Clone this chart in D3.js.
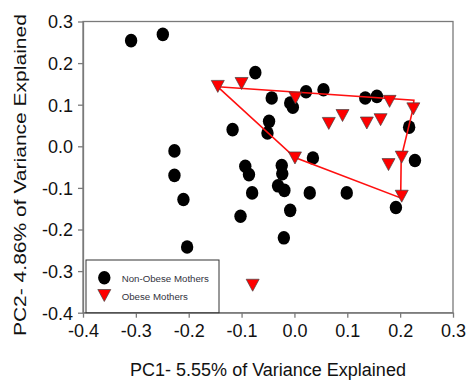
<!DOCTYPE html>
<html>
<head>
<meta charset="utf-8">
<script src="https://cdn.jsdelivr.net/npm/d3@7"></script>
<style>
  body { margin: 0; background: #fff; }
  text { font-family: Arial, "Liberation Sans", sans-serif; }
</style>
</head>
<body>
<svg id="chart" width="467" height="380"></svg>
<script>
const width = 467;
const height = 380;

// Non-obese mothers (circles)
const nonObeseX = [-0.309, -0.249, -0.227, -0.227, -0.210, -0.203, -0.093, -0.086, -0.080, -0.102,
  -0.024, -0.023, -0.031, -0.019, -0.008, -0.020, 0.029, -0.074, -0.043, 0.022,
  0.055, -0.008, -0.003, -0.117, -0.048, -0.051, 0.035, 0.134, 0.156, 0.217,
  0.228, 0.099, 0.192];
const nonObeseY = [0.254, 0.269, -0.011, -0.070, -0.128, -0.242, -0.048, -0.068, -0.112, -0.168,
  -0.046, -0.066, -0.095, -0.106, -0.154, -0.220, -0.112, 0.177, 0.116, 0.131,
  0.136, 0.104, 0.094, 0.040, 0.060, 0.032, -0.028, 0.116, 0.120, 0.046,
  -0.034, -0.112, -0.147];

// Obese mothers (triangles)
const obeseX = [-0.145, -0.100, 0.002, 0.001, 0.180, 0.225, 0.065, 0.091, 0.137, 0.163, 0.203, 0.178, 0.203, -0.079];
const obeseY = [0.144, 0.151, 0.116, -0.028, 0.108, 0.090, 0.055, 0.074, 0.056, 0.064, -0.026, -0.044, -0.120, -0.334];

// outline drawn round the obese group
const hullX = [-0.145, 0.226, 0.224, 0.202, 0.201, 0.001, -0.145];
const hullY = [0.143, 0.111, 0.088, -0.027, -0.124, -0.027, 0.143];

const xTicks = [-0.4, -0.3, -0.2, -0.1, 0.0, 0.1, 0.2, 0.3];
const xTickLabels = ["-0.4", "-0.3", "-0.2", "-0.1", "0.0", "0.1", "0.2", "0.3"];
const yTicks = [-0.4, -0.3, -0.2, -0.1, 0.0, 0.1, 0.2, 0.3];
const yTickLabels = ["-0.4", "-0.3", "-0.2", "-0.1", "0.0", "0.1", "0.2", "0.3"];

const legendLabels = ["Non-Obese Mothers", "Obese Mothers"];

const svg = d3.select("#chart");

const x = d3.scaleLinear().domain([-0.4, 0.3]).range([83, 453]);
const y = d3.scaleLinear().domain([-0.4, 0.3]).range([312.7, 21.5]);

const frameColor = "#7a7a7a";

// frame
svg.append("rect")
  .attr("x", x(-0.4)).attr("y", y(0.3))
  .attr("width", x(0.3) - x(-0.4)).attr("height", y(-0.4) - y(0.3))
  .attr("fill", "none").attr("stroke", frameColor).attr("stroke-width", 1.3);

// axes
const xAxis = svg.append("g")
  .attr("transform", `translate(0,${y(-0.4)})`)
  .call(d3.axisBottom(x).tickValues(xTicks).tickSize(5).tickSizeOuter(0)
    .tickFormat((d, i) => xTickLabels[i]));
const yAxis = svg.append("g")
  .attr("transform", `translate(${x(-0.4)},0)`)
  .call(d3.axisLeft(y).tickValues(yTicks).tickSize(5).tickSizeOuter(0)
    .tickFormat((d, i) => yTickLabels[i]));

[xAxis, yAxis].forEach(g => {
  g.select(".domain").attr("stroke", frameColor).attr("stroke-width", 1.3);
  g.selectAll(".tick line").attr("stroke", frameColor).attr("stroke-width", 1.3);
  g.selectAll(".tick text")
    .attr("font-family", "Arial, 'Liberation Sans', sans-serif")
    .attr("font-size", 18).attr("fill", "#111");
});
xAxis.selectAll(".tick text").attr("y", 11).attr("dy", "0.75em");
yAxis.selectAll(".tick text").attr("x", -10).attr("dy", "0.36em");

// axis titles
svg.append("text")
  .attr("x", (x(-0.4) + x(0.3)) / 2).attr("y", 376)
  .attr("text-anchor", "middle")
  .attr("font-size", 18).attr("fill", "#111")
  .text("PC1- 5.55% of Variance Explained");

svg.append("text")
  .attr("transform", `translate(25.5,${(y(-0.4) + y(0.3)) / 2 + 8}) rotate(-90)`)
  .attr("text-anchor", "middle")
  .attr("font-size", 17)
  .attr("textLength", 322).attr("lengthAdjust", "spacingAndGlyphs")
  .attr("fill", "#111")
  .text("PC2- 4.86% of Variance Explained");

// markers
const triangle = (cx, cy, w, h) =>
  `M${cx - w / 2},${cy - h / 2}L${cx + w / 2},${cy - h / 2}L${cx},${cy + h / 2}Z`;

svg.append("g").selectAll("ellipse")
  .data(nonObeseX.map((d, i) => [d, nonObeseY[i]]))
  .enter().append("ellipse")
  .attr("cx", d => x(d[0])).attr("cy", d => y(d[1]))
  .attr("rx", 6.2).attr("ry", 6.8)
  .attr("fill", "#000");

svg.append("path")
  .datum(hullX.map((d, i) => [d, hullY[i]]))
  .attr("d", d3.line().x(d => x(d[0])).y(d => y(d[1])))
  .attr("fill", "none").attr("stroke", "#ff1010").attr("stroke-width", 1.6);

svg.append("g").selectAll("path")
  .data(obeseX.map((d, i) => [d, obeseY[i]]))
  .enter().append("path")
  .attr("d", d => triangle(x(d[0]), y(d[1]), 13, 12))
  .attr("fill", "#ff0000").attr("stroke", "#444").attr("stroke-width", 0.7);

// legend
const legend = svg.append("g");
legend.append("rect")
  .attr("x", 86).attr("y", 260).attr("width", 133).attr("height", 52.7)
  .attr("fill", "#fff").attr("stroke", "#333").attr("stroke-width", 1);
legend.append("ellipse")
  .attr("cx", 104.3).attr("cy", 277.7).attr("rx", 6.2).attr("ry", 6.8).attr("fill", "#000");
legend.append("path")
  .attr("d", triangle(104.3, 295.5, 13, 12))
  .attr("fill", "#ff0000").attr("stroke", "#444").attr("stroke-width", 0.7);
legend.selectAll("text.lab")
  .data(legendLabels)
  .enter().append("text")
  .attr("class", "lab")
  .attr("x", 121.7).attr("y", (d, i) => 282 + i * 18)
  .attr("font-size", 9.7).attr("fill", "#333340")
  .text(d => d);
</script>
</body>
</html>
